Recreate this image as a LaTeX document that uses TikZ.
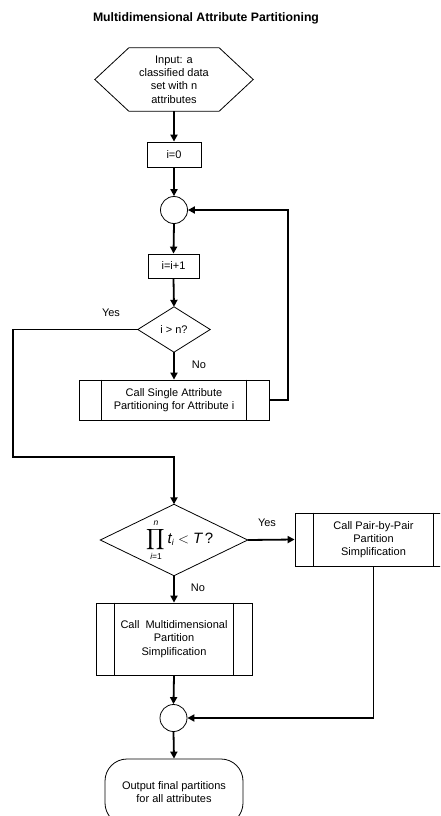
\documentclass[tikz,border=0pt]{standalone}
\usepackage{amsmath}
\usepackage{fontspec}
\setmainfont{Liberation Sans}
\usetikzlibrary{shapes.geometric,arrows.meta}
\newcommand{\limfont}{\fontsize{8.5}{9}\selectfont}
\begin{document}
\begin{tikzpicture}[x=1pt,y=-1pt,
  every node/.style={font=\fontsize{11}{13.3}\selectfont, align=center},
  outline/.style={draw, line width=0.8pt},
  box/.style={outline, rectangle, inner sep=0pt},
  circ/.style={outline, circle, minimum size=27pt, inner sep=0pt},
  area/.style={rectangle, inner sep=0pt},
  arr/.style={line width=1.8pt, -{Triangle[length=7pt,width=7pt]}},
  titlefont/.style={font=\fontsize{12.25}{14}\selectfont\bfseries}
]
\useasboundingbox (0,0) rectangle (440,816);
\clip (0,0) rectangle (440,816);

\node[titlefont] (title) at (206,18) {Multidimensional Attribute Partitioning};

% input hexagon
\node[area, minimum width=158pt, minimum height=63pt] (hex) at (174,79.5)
  {Input: a\\classified data\\set with n\\attributes};
\draw[outline] (hex.west) -- ([xshift=34pt]hex.north west) -- ([xshift=-34pt]hex.north east)
  -- (hex.east) -- ([xshift=-34pt]hex.south east) -- ([xshift=34pt]hex.south west) -- cycle;

\node[box, minimum width=54pt, minimum height=25pt] (i0) at (174,154.5) {i=0};
\node[circ] (c1) at (174,210) {};
\node[box, minimum width=51pt, minimum height=24pt] (inc) at (173.5,266) {i=i+1};

% decision 1
\node[area, minimum width=72pt, minimum height=45pt] (d1) at (174,329.5) {i > n?};
\draw[outline] (d1.west) -- (d1.north) -- (d1.east) -- (d1.south) -- cycle;

\node[box, minimum width=190pt, minimum height=40pt] (single) at (174,400)
  {Call Single Attribute\\Partitioning for Attribute i};
\draw[outline] ([xshift=23pt]single.north west) -- ([xshift=23pt]single.south west);
\draw[outline] ([xshift=-23pt]single.north east) -- ([xshift=-23pt]single.south east);

% decision 2
\node[area, minimum width=147pt, minimum height=71pt] (d2) at (174,540) {};
\draw[outline] (d2.west) -- (d2.north) -- (d2.east) -- (d2.south) -- cycle;
\node[inner sep=0pt, font=\fontsize{15}{18}\selectfont] (formula) at (180,540)
  {$\displaystyle\prod\limits_{\mbox{\limfont\itshape i\upshape =1}}^{\mbox{\limfont\itshape n}}\textit{t}_{\mbox{\limfont\itshape i}}<\textit{T}\,$?};

\node[box, minimum width=157pt, minimum height=53pt] (pair) at (373.5,539.5)
  {Call Pair-by-Pair\\Partition\\Simplification};
\draw[outline] ([xshift=19pt]pair.north west) -- ([xshift=19pt]pair.south west);
\draw[outline] ([xshift=-19pt]pair.north east) -- ([xshift=-19pt]pair.south east);

\node[box, minimum width=156pt, minimum height=72pt] (multi) at (174,639)
  {Call\ \ Multidimensional\\Partition\\Simplification};
\draw[outline] ([xshift=19pt]multi.north west) -- ([xshift=19pt]multi.south west);
\draw[outline] ([xshift=-19pt]multi.north east) -- ([xshift=-19pt]multi.south east);

\node[circ] (c2) at (173.5,718) {};
\node[box, rounded corners=22pt, minimum width=138pt, minimum height=66pt] (term) at (174,792)
  {Output final partitions\\for all attributes};

% labels
\node (yes1) at (111,313) {Yes};
\node (no1) at (199,365) {No};
\node (yes2) at (267,523) {Yes};
\node (no2) at (198,588) {No};

% connectors
\coordinate (loopr) at (288,400);
\coordinate (yesc) at (13,457);
\draw[arr] (hex.south) -- (i0.north);
\draw[arr] (i0.south) -- (c1.north);
\draw[arr] (c1.south) -- (inc.north);
\draw[arr] (inc.south) -- (d1.north);
\draw[arr] (d1.south) -- (single.north);
\draw[arr] (single.east) -- (loopr) |- (c1.east);
\draw[arr] (d1.west) -| (yesc) -| (d2.north);
\draw[arr] (d2.east) -- (pair.west);
\draw[arr] (d2.south) -- (multi.north);
\draw[arr] (multi.south) -- (c2.north);
\draw[arr] (pair.south) |- (c2.east);
\draw[arr] (c2.south) -- (term.north);
\end{tikzpicture}
\end{document}
